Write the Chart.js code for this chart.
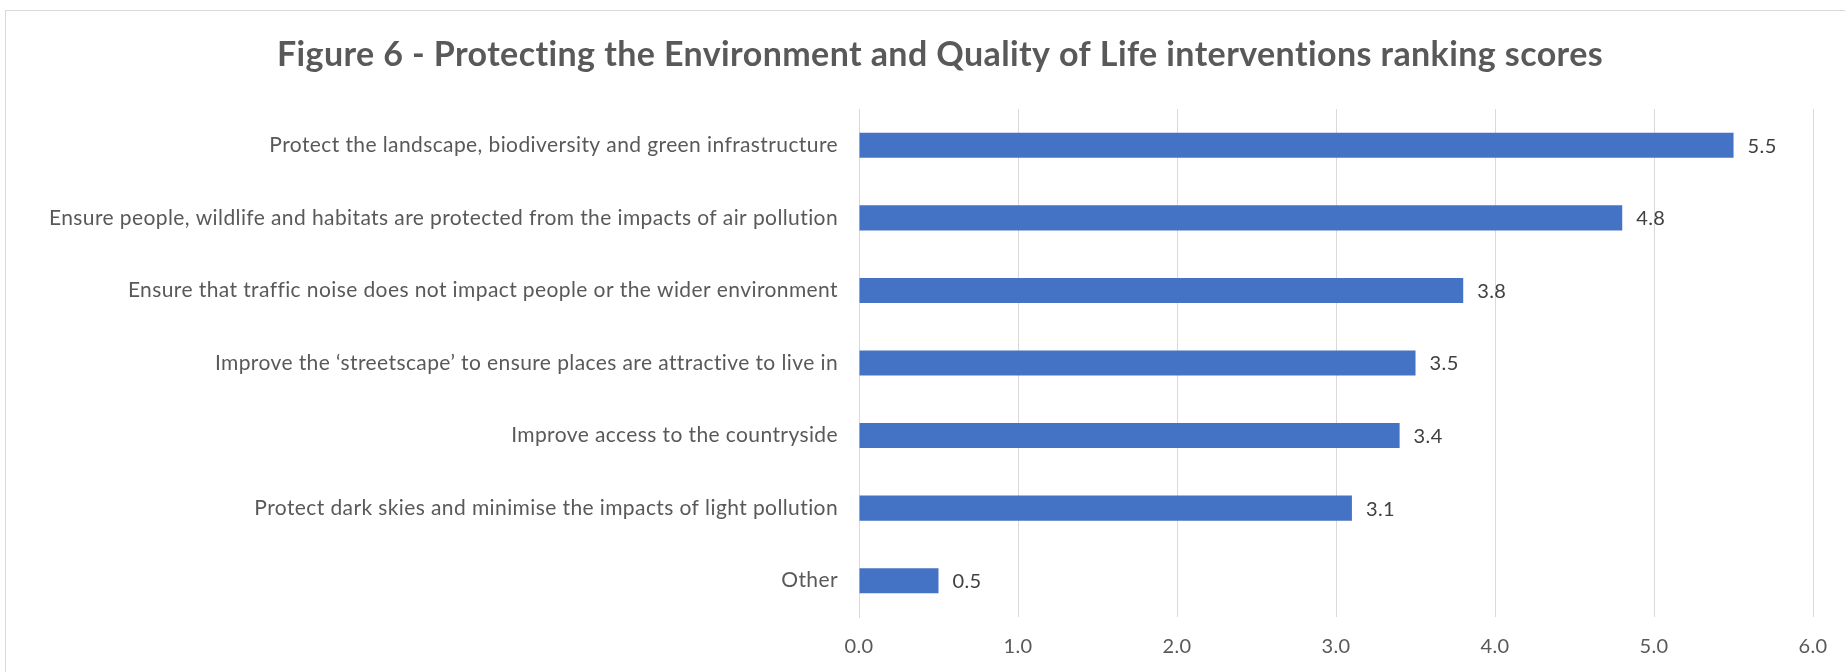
<!DOCTYPE html>
<html>
<head>
<meta charset="utf-8">
<title>Ranking scores</title>
<script src="https://cdn.jsdelivr.net/npm/chart.js@4/dist/chart.umd.min.js"></script>
<style>
    html, body { margin: 0; padding: 0; background: #fff; overflow: hidden; }
    .chart-frame {
        position: absolute; left: 5px; top: 10px;
        width: 1900px; height: 720px;
        border: 1px solid #d9d9d9;
    }
    #rankingChart { position: absolute; left: 0; top: 0; }
</style>
</head>
<body>
<div class="chart-frame"></div>
<canvas id="rankingChart" width="1845" height="672"></canvas>
<script>
// =====================================================
// DATA
// =====================================================
const chartTitle = 'Figure 6 - Protecting the Environment and Quality of Life interventions ranking scores';

const interventions = [
    'Protect the landscape, biodiversity and green infrastructure',
    'Ensure people, wildlife and habitats are protected from the impacts of air pollution',
    'Ensure that traffic noise does not impact people or the wider environment',
    'Improve the \u2018streetscape\u2019 to ensure places are attractive to live in',
    'Improve access to the countryside',
    'Protect dark skies and minimise the impacts of light pollution',
    'Other'
];

const scores = [5.5, 4.8, 3.8, 3.5, 3.4, 3.1, 0.5];

const axisMin = 0;
const axisMax = 6;
const axisStep = 1;

// =====================================================
// STYLE
// =====================================================
const barColor = '#4472c4';
const gridColor = '#d9d9d9';
const labelGrey = '#595959';
const valueGrey = '#404040';
const fontFamily = 'Lato, "Open Sans", sans-serif';

// slightly looser tracking for all canvas text
const textTracking = {
    id: 'textTracking',
    beforeDraw(chart) {
        chart.ctx.letterSpacing = '0.4px';
    }
};

// the left padding is only there to centre the title; let the long
// category labels run into it instead of being clipped at the scale edge
const labelOverflow = {
    id: 'labelOverflow',
    afterLayout(chart) {
        chart.scales.y.left = 0;
    }
};

// value labels just past the end of each bar
const barValueLabels = {
    id: 'barValueLabels',
    afterDatasetsDraw(chart) {
        const { ctx } = chart;
        const meta = chart.getDatasetMeta(0);
        ctx.save();
        ctx.font = '20px ' + fontFamily;
        ctx.fillStyle = valueGrey;
        ctx.textAlign = 'left';
        ctx.textBaseline = 'middle';
        meta.data.forEach((bar, i) => {
            ctx.fillText(scores[i].toFixed(1), bar.x + 14, bar.y + 1);
        });
        ctx.restore();
    }
};

function renderRankingChart() {
    const ctx = document.getElementById('rankingChart').getContext('2d');
    return new Chart(ctx, {
        type: 'bar',
        data: {
            labels: interventions,
            datasets: [{
                data: scores,
                backgroundColor: barColor,
                borderWidth: 0,
                barPercentage: 0.345,
                categoryPercentage: 1
            }]
        },
        options: {
            indexAxis: 'y',
            responsive: false,
            animation: false,
            devicePixelRatio: 1,
            layout: { padding: { left: 57, right: 22, top: 0, bottom: 0 } },
            plugins: {
                legend: { display: false },
                tooltip: { enabled: false },
                title: {
                    display: true,
                    text: chartTitle,
                    color: labelGrey,
                    font: { family: fontFamily, size: 34, weight: 'bold', lineHeight: 1.2 },
                    padding: { top: 34.6, bottom: 33.6 }
                }
            },
            scales: {
                x: {
                    min: axisMin,
                    max: axisMax,
                    afterFit: scale => { scale.height = 55; },
                    ticks: {
                        stepSize: axisStep,
                        color: labelGrey,
                        padding: 18,
                        font: { family: fontFamily, size: 20 },
                        callback: v => v.toFixed(1)
                    },
                    grid: { color: gridColor, lineWidth: 1, drawTicks: false },
                    border: { display: false }
                },
                y: {
                    afterFit: scale => { scale.width = 859 - 57; },
                    ticks: {
                        color: labelGrey,
                        padding: 21,
                        font: { family: fontFamily, size: 21 }
                    },
                    grid: { display: false, drawTicks: false },
                    border: { display: true, color: gridColor, width: 1 }
                }
            }
        },
        plugins: [textTracking, labelOverflow, barValueLabels]
    });
}

renderRankingChart();
</script>
</body>
</html>
